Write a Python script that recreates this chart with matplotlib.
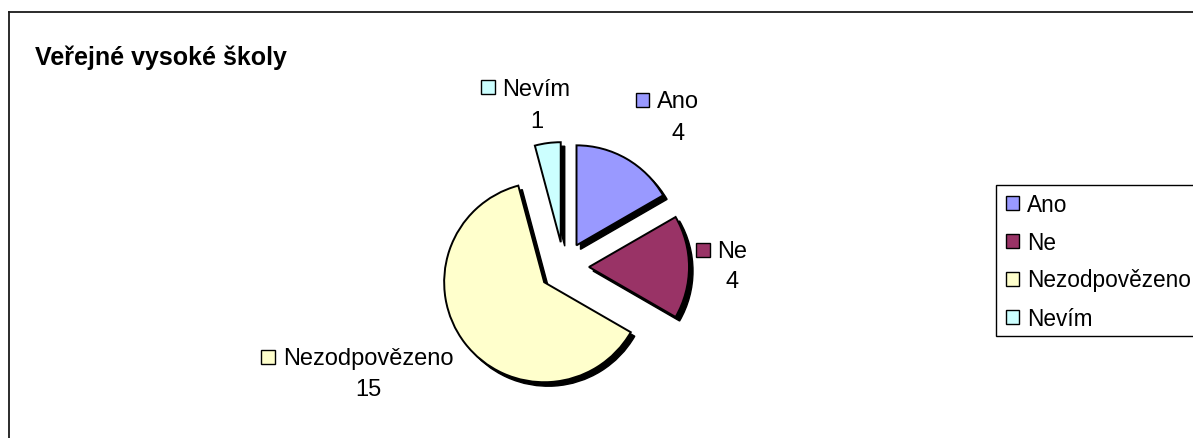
import matplotlib
matplotlib.use("Agg")
import matplotlib.pyplot as plt
from matplotlib.patches import Rectangle
from matplotlib.lines import Line2D

# ---- data ----
categories = ["Ano", "Ne", "Nezodpovězeno", "Nevím"]
values = [4, 4, 15, 1]
colors = ["#9999FF", "#993366", "#FFFFCC", "#CCFFFF"]
title = "Veřejné vysoké školy"

# ---- layout (pixel units, y measured from top) ----
W, H = 1193, 438
plt.rcParams['font.family'] = ['Liberation Sans', 'DejaVu Sans']

fig = plt.figure(figsize=(W / 100, H / 100), dpi=100)
ax = fig.add_axes([0, 0, 1, 1])

def Y(y):
    return H - y

center = (564, Y(267))
radius = 100
explode = [25] * len(values)   # data units (pixels here)
shadow_off = (4, -4)

# shadow
ax.pie(values, colors=["black"] * len(values), startangle=90, counterclock=False,
       explode=explode, radius=radius,
       center=(center[0] + shadow_off[0], center[1] + shadow_off[1]),
       wedgeprops=dict(edgecolor="black", linewidth=1.0, zorder=1))
# main wedges
ax.pie(values, colors=colors, startangle=90, counterclock=False,
       explode=explode, radius=radius, center=center,
       wedgeprops=dict(edgecolor="black", linewidth=1.4, zorder=2))

ax.set_xlim(0, W)
ax.set_ylim(0, H)
ax.set_axis_off()

# figure border (left and top visible)
ax.add_line(Line2D([9, 9], [Y(12), Y(440)], color="#1a1a1a", lw=1.3, zorder=5))
ax.add_line(Line2D([9, W + 2], [Y(12), Y(12)], color="#1a1a1a", lw=1.3, zorder=5))

# title
ax.text(35, Y(65), title, fontsize=18, fontweight="bold", ha="left", va="baseline")

fs = 17
# data label anchors: (name centre x, name cap-middle y, value cap-middle y)
label_pos = {
    "Ano": (678, 100, 132),
    "Ne": (732.5, 250, 280),
    "Nezodpovězeno": (368, 357, 388),
    "Nevím": (536.5, 87, 120),
}
fig.canvas.draw()
renderer = fig.canvas.get_renderer()
cap = 8.5
sq = 13.5
for cat, val, col in zip(categories, values, colors):
    cx, ny, vy = label_pos[cat]
    t = ax.text(cx, Y(ny + cap), cat, fontsize=fs, ha="center", va="baseline", zorder=6)
    ax.text(cx, Y(vy + cap), str(val), fontsize=fs, ha="center", va="baseline", zorder=6)
    bb = t.get_window_extent(renderer)
    x0 = bb.x0 - 8 - sq
    ax.add_patch(Rectangle((x0, Y(ny) - sq / 2), sq, sq, facecolor=col,
                           edgecolor="black", lw=1.0, zorder=6))

# legend box
ax.add_patch(Rectangle((996, Y(336)), 300, 336 - 185, facecolor="white",
                       edgecolor="black", lw=1.0, zorder=4, clip_on=False))
for i, (cat, col) in enumerate(zip(categories, colors)):
    yc = 203 + i * 38
    ax.add_patch(Rectangle((1005.5, Y(yc) - sq / 2), sq, sq, facecolor=col,
                           edgecolor="black", lw=1.0, zorder=6))
    ax.text(1027, Y(yc + cap), cat, fontsize=16.3, ha="left", va="baseline", zorder=6)

fig.savefig("out.png", dpi=100)
